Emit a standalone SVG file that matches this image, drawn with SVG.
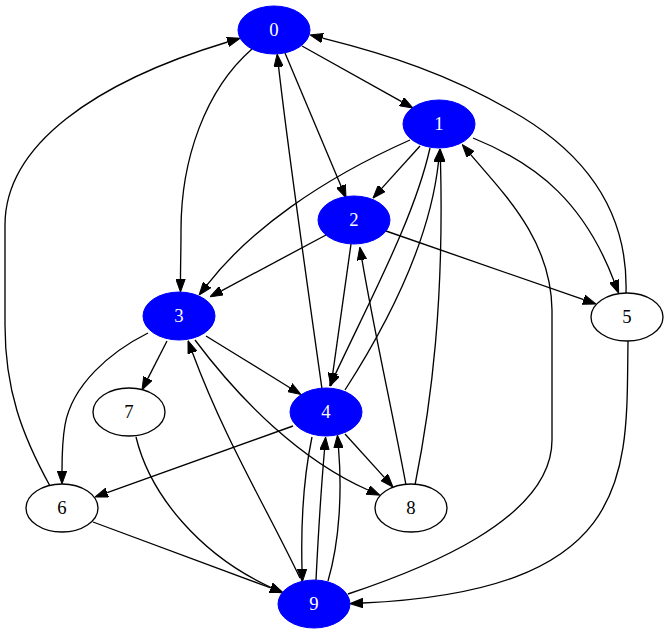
<svg xmlns="http://www.w3.org/2000/svg" width="668" height="635" viewBox="0 0 668 635">
<style>
.e{fill:none;stroke:#000;stroke-width:1.33;marker-end:url(#a)}
.b ellipse{fill:#0000ff;stroke:#0000ff}
.w ellipse{fill:#fff;stroke:#000;stroke-width:1.33}
text{font-family:"Liberation Serif","Times New Roman",serif;font-size:18.67px;text-anchor:middle}
.b text{fill:#fff}
.w text{fill:#000}
</style>
<defs>
<marker id="a" viewBox="0 0 13 10" refX="0" refY="5" markerWidth="13" markerHeight="10" markerUnits="userSpaceOnUse" orient="auto">
<path d="M0,0.3 L13,5 L0,9.7 Z" fill="#000" stroke="#000" stroke-width="1"/>
</marker>
</defs>
<rect width="668" height="635" fill="#fff"/>
<g id="edges">
<path class="e" d="M302,46 L401.6,101.7"/>
<path class="e" d="M285,53 L341,186"/>
<path class="e" d="M252,49 C205,90 181,160 181,230 C181,250 180.5,265 180.5,279"/>
<path class="e" d="M322,389 C308,290 288,150 278.6,66.9"/>
<path class="e" d="M626,293 C628,225 600,160 510,110 C450,75 390,55 322.6,38.1"/>
<path class="e" d="M50,486 C22,435 5,390 5,325 L5,225 C5,145 95,82 227.6,42"/>
<path class="e" d="M420,146 L381.7,188.4"/>
<path class="e" d="M410,140 C320,180 250,230 207.1,284.8"/>
<path class="e" d="M430,148 C415,215 375,290 335.1,374.7"/>
<path class="e" d="M345,390 C390,320 430,240 438.5,162"/>
<path class="e" d="M473,138 C540,165 585,205 614,281"/>
<path class="e" d="M326,235 L221.4,290.8"/>
<path class="e" d="M351,244 L332.8,373.1"/>
<path class="e" d="M386,231 L583.7,299.7"/>
<path class="e" d="M406,485 C392,410 374,330 362,259.8"/>
<path class="e" d="M415,485 C432,400 444,300 440.5,162"/>
<path class="e" d="M206,336 L289.9,387.7"/>
<path class="e" d="M148,333 C110,352 72,385 65,425 C62,442 62,455 62,471"/>
<path class="e" d="M167,341 L147.9,378.4"/>
<path class="e" d="M195,340 C240,400 300,460 368,490"/>
<path class="e" d="M300,578 C265,505 225,440 192.5,352.7"/>
<path class="e" d="M293,426 L107.2,492.6"/>
<path class="e" d="M345,434 L384.3,477.4"/>
<path class="e" d="M312,437 C303,480 301,530 302,569"/>
<path class="e" d="M316,580 C318,540 321,490 324.5,450"/>
<path class="e" d="M328,581 C340,540 342,490 338.5,448"/>
<path class="e" d="M348,594 C420,570 552,520 552,440 L552,310 C551,240 505,195 470.7,154.6"/>
<path class="e" d="M628,341 C626,470 640,590 363,603"/>
<path class="e" d="M93,522 L270.8,588"/>
<path class="e" d="M136,437 C150,495 200,555 271,587.5"/>
</g>
<g id="node0" class="b"><ellipse cx="274" cy="30" rx="36" ry="24"/><text x="274" y="36">0</text></g>
<g id="node1" class="b"><ellipse cx="439" cy="124" rx="36" ry="24"/><text x="439" y="130">1</text></g>
<g id="node2" class="b"><ellipse cx="354" cy="220" rx="36" ry="24"/><text x="354" y="226">2</text></g>
<g id="node3" class="b"><ellipse cx="179" cy="316" rx="36" ry="24"/><text x="179" y="322">3</text></g>
<g id="node4" class="b"><ellipse cx="326" cy="412" rx="36" ry="24"/><text x="326" y="418">4</text></g>
<g id="node5" class="w"><ellipse cx="627" cy="317" rx="36" ry="24"/><text x="627" y="323">5</text></g>
<g id="node6" class="w"><ellipse cx="62" cy="508" rx="36" ry="24"/><text x="62" y="514">6</text></g>
<g id="node7" class="w"><ellipse cx="129" cy="412" rx="36" ry="24"/><text x="129" y="418">7</text></g>
<g id="node8" class="w"><ellipse cx="411" cy="508" rx="36" ry="24"/><text x="411" y="514">8</text></g>
<g id="node9" class="b"><ellipse cx="314" cy="604" rx="36" ry="24"/><text x="314" y="610">9</text></g>
</svg>
